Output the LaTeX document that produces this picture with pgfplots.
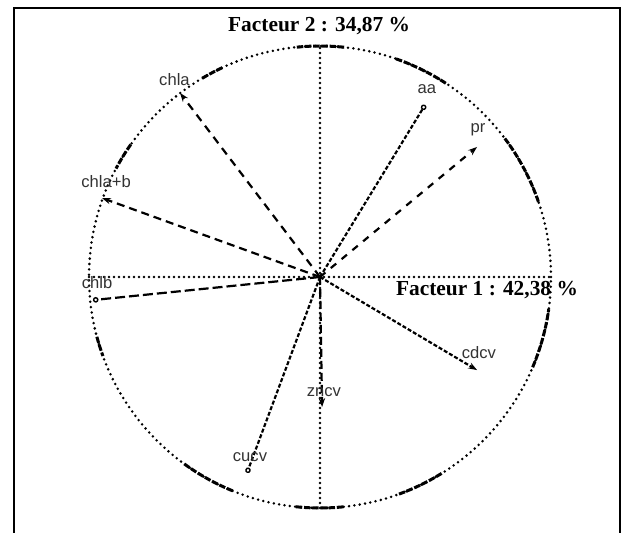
\documentclass[border=0pt]{standalone}
\usepackage{pgfplots}
\pgfplotsset{compat=1.18}
\usepackage{fontspec}
\setmainfont{Liberation Serif}
\newfontfamily\labfont{Liberation Sans}
\usetikzlibrary{arrows.meta}

% radius of the correlation circle on the page
\newcommand{\circr}{115.5pt}
% a heavier stretch of the circle between two angles
\newcommand{\heavyarc}[2]{%
  \draw[line width=1.5pt, dash pattern=on 3.2pt off 0.9pt]
    (axis cs:{cos(#1)},{sin(#1)}) arc[start angle=#1, end angle=#2, radius=\circr];}

\tikzset{
  vec/.style={line width=1.1pt, black},
  filled/.style={-{Stealth[length=4.5pt,width=3.2pt]}},
  open/.style={-{Circle[open,length=2.8pt,line width=0.7pt]}},
  lab/.style={font=\labfont\fontsize{8.3}{9}\selectfont, text=black!80, inner sep=0pt},
  ttl/.style={font=\bfseries\fontsize{10.7}{12}\selectfont, inner sep=0pt},
}

\begin{document}
\begin{tikzpicture}
\begin{axis}[
  x=115.5pt, y=115.5pt,
  xmin=-1.3853, xmax=1.3074, ymin=-1.1082, ymax=1.1991,
  hide axis, clip=false,
]
% page extent and frame
\path (axis cs:-1.3853,-1.1082) rectangle (axis cs:1.3074,1.1991);
\draw[line width=1.1pt] (axis cs:-1.3247,-1.1082) -- (axis cs:-1.3247,1.1645)
      -- (axis cs:1.2987,1.1645) -- (axis cs:1.2987,-1.1082);

% correlation circle
\draw[line width=1.4pt, line cap=round, dash pattern=on 0pt off 2.7pt]
  (axis cs:0,0) circle[radius=\circr];
\heavyarc{84}{96}
\heavyarc{115}{121}
\heavyarc{145}{152}
\heavyarc{195}{200}
\heavyarc{234}{248}
\heavyarc{264}{276}
\heavyarc{290}{302}
\heavyarc{337}{352}
\heavyarc{19}{37}
\heavyarc{57}{71}

% factor axes
\draw[line width=1.3pt, line cap=round, dash pattern=on 0pt off 2.5pt]
  (axis cs:-1,0) -- (axis cs:1,0);
\draw[line width=1.3pt, line cap=round, dash pattern=on 0pt off 2.5pt]
  (axis cs:0,-1) -- (axis cs:0,1);

% variables
\addplot[vec, filled, dash pattern=on 4pt off 3pt]     coordinates {(0,0) (-0.606,0.797)};  % chla
\addplot[vec, open,   dash pattern=on 2pt off 1pt]     coordinates {(0,0) (0.455,0.745)};   % aa
\addplot[vec, filled, dash pattern=on 3.5pt off 3.5pt] coordinates {(0,0) (0.680,0.563)};   % pr
\addplot[vec, filled, dash pattern=on 4pt off 2.5pt]   coordinates {(0,0) (-0.944,0.342)};  % chla+b
\addplot[vec, open,   dash pattern=on 5pt off 2pt]     coordinates {(0,0) (-0.983,-0.100)}; % chlb
\addplot[vec, filled, dash pattern=on 2pt off 1pt]     coordinates {(0,0) (0.680,-0.403)};  % cdcv
\addplot[vec, filled, dash pattern=on 4pt off 2pt]     coordinates {(0,0) (0.009,-0.563)};  % zncv
\addplot[vec, open,   dash pattern=on 2pt off 1pt]     coordinates {(0,0) (-0.316,-0.848)}; % cucv

% variable names
\node[lab] at (axis cs:-0.630,0.855) {chla};
\node[lab] at (axis cs:0.463,0.814) {aa};
\node[lab] at (axis cs:0.684,0.636) {pr};
\node[lab] at (axis cs:-0.926,0.411) {chla+b};
\node[lab] at (axis cs:-0.965,-0.026) {chlb};
\node[lab] at (axis cs:0.688,-0.325) {cdcv};
\node[lab] at (axis cs:0.017,-0.498) {zncv};
\node[lab] at (axis cs:-0.303,-0.779) {cucv};

% factor titles
\node[ttl] at (axis cs:-0.004,1.0866) {Facteur 2 : 34,87 \%};
\node[ttl] at (axis cs:0.723,-0.056) {Facteur 1 : 42,38 \%};
\end{axis}
\end{tikzpicture}
\end{document}
